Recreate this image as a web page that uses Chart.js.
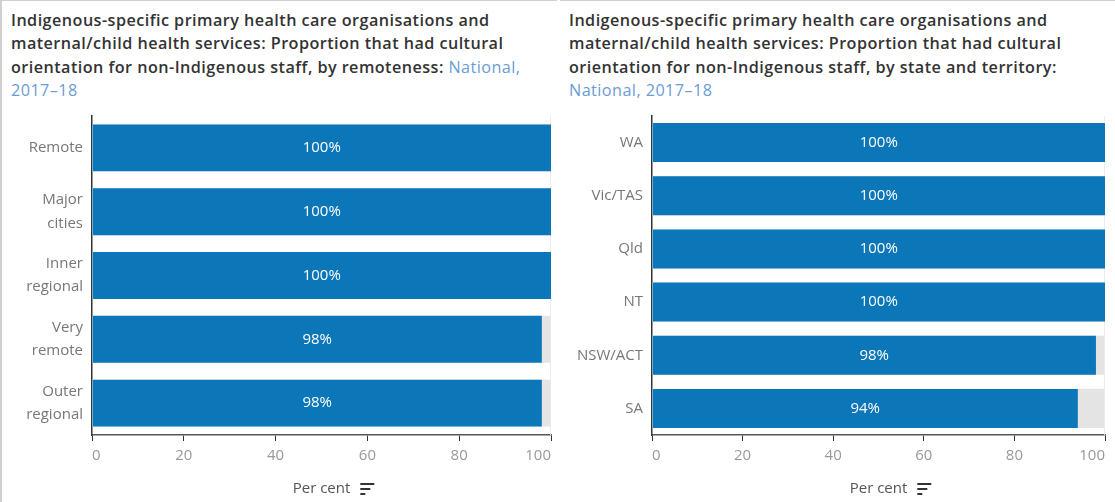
<!DOCTYPE html>
<html>
<head>
<meta charset="utf-8">
<script src="https://cdn.jsdelivr.net/npm/chart.js@4/dist/chart.umd.min.js"></script>
<style>
  html, body { margin: 0; padding: 0; background: #fff; }
  body { width: 1115px; height: 502px; position: relative; overflow: hidden; font-family: "Open Sans", sans-serif; }
  .panel { position: absolute; top: 0; height: 502px; box-sizing: border-box; border-top: 1px solid #d0d0d0; }
  #p1 { left: 0; width: 557px; border-left: 2px solid #d0d0d0; }
  #p2 { left: 560px; width: 555px; }
  .title { position: absolute; left: 9px; top: 8px; white-space: nowrap; font-size: 16.2px; line-height: 23.4px; font-weight: 600; color: #333; letter-spacing: 0.45px; }
  .title span { color: #6b9cd6; font-weight: 400; }
  canvas { position: absolute; top: 100px; }
</style>
</head>
<body>
<div class="panel" id="p1">
  <div class="title">Indigenous-specific primary health care organisations and<br>maternal/child health services: Proportion that had cultural<br>orientation for non-Indigenous staff, by remoteness: <span>National,<br>2017–18</span></div>
</div>
<div class="panel" id="p2">
  <div class="title">Indigenous-specific primary health care organisations and<br>maternal/child health services: Proportion that had cultural<br>orientation for non-Indigenous staff, by state and territory:<br><span>National, 2017–18</span></div>
</div>
<canvas id="c1" width="557" height="402" style="left:0;width:557px;height:402px"></canvas>
<canvas id="c2" width="555" height="402" style="left:560px;width:555px;height:402px"></canvas>
<script>
// Remoteness panel
const remotenessLabels = [["Remote"], ["Major", "cities"], ["Inner", "regional"], ["Very", "remote"], ["Outer", "regional"]];
const remotenessValues = [100, 100, 100, 98, 98];

// State and territory panel
const stateLabels = ["WA", "Vic/TAS", "Qld", "NT", "NSW/ACT", "SA"];
const stateValues = [100, 100, 100, 100, 98, 94];

const xTicks = [0, 20, 40, 60, 80, 100];
const axisTitle = "Per cent";

const BLUE = "#0b77b8";
const TRACK = "#e4e4e4";
const FONT = "'Open Sans', sans-serif";

// Grey 0–100 track behind each bar
const trackPlugin = {
  id: "track",
  beforeDatasetsDraw(chart) {
    const { ctx, scales: { x } } = chart;
    const meta = chart.getDatasetMeta(0);
    const x0 = x.getPixelForValue(0), x1 = x.getPixelForValue(100);
    ctx.save();
    ctx.fillStyle = TRACK;
    meta.data.forEach(bar => {
      ctx.fillRect(x0, bar.y - bar.height / 2, x1 - x0, bar.height);
    });
    // faint line at the 100 mark
    ctx.strokeStyle = "#ececec";
    ctx.lineWidth = 1;
    ctx.beginPath();
    ctx.moveTo(Math.round(x1) - 0.5, chart.chartArea.top);
    ctx.lineTo(Math.round(x1) - 0.5, chart.chartArea.bottom);
    ctx.stroke();
    ctx.restore();
  }
};

// White value labels centred in each bar, plus the sort glyph beside the axis title
const labelPlugin = {
  id: "barLabels",
  afterDatasetsDraw(chart) {
    const { ctx } = chart;
    const ds = chart.data.datasets[0];
    const meta = chart.getDatasetMeta(0);
    ctx.save();
    ctx.fillStyle = "#fff";
    ctx.font = "15px " + FONT;
    ctx.textAlign = "center";
    ctx.textBaseline = "middle";
    meta.data.forEach((bar, i) => {
      ctx.fillText(ds.data[i] + "%", (bar.x + bar.base) / 2, bar.y);
    });
    ctx.restore();
  },
  afterDraw(chart) {
    const { ctx, chartArea, scales: { x } } = chart;
    ctx.save();
    ctx.font = "15px " + FONT;
    const w = ctx.measureText(axisTitle).width;
    const cx = (chartArea.left + chartArea.right) / 2;
    const cy = x.bottom - 4 - 9;
    const sx = cx + w / 2 + 10;
    ctx.strokeStyle = "#333";
    ctx.lineWidth = 2;
    [[14, -5], [10, 0], [5, 5]].forEach(([len, dy]) => {
      ctx.beginPath();
      ctx.moveTo(sx, cy + dy);
      ctx.lineTo(sx + len, cy + dy);
      ctx.stroke();
    });
    ctx.restore();
  }
};

function makeChart(id, labels, values, padRight) {
  return new Chart(document.getElementById(id), {
    type: "bar",
    data: {
      labels: labels,
      datasets: [{
        data: values,
        backgroundColor: BLUE,
        borderWidth: 0,
        categoryPercentage: 1,
        barPercentage: 0.735
      }]
    },
    options: {
      indexAxis: "y",
      responsive: false,
      animation: false,
      events: [],
      layout: { padding: { top: 16, right: padRight, left: 0, bottom: 0 } },
      plugins: { legend: { display: false }, tooltip: { enabled: false } },
      scales: {
        x: {
          min: 0, max: 100,
          afterBuildTicks(scale) { scale.ticks = xTicks.map(v => ({ value: v })); },
          afterFit(scale) { scale.height = 67; scale.paddingLeft = 0; scale.paddingRight = 0; },
          border: { display: true, color: "#555", width: 1.5 },
          grid: { display: true, drawOnChartArea: false, drawTicks: true, tickLength: 6, color: "#333", tickColor: "#333", tickWidth: 1 },
          ticks: { color: "#999", font: { family: FONT, size: 15 }, padding: 6, align: "inner", maxRotation: 0 },
          title: { display: true, text: axisTitle, color: "#555", font: { family: FONT, size: 15 }, padding: { top: 0, bottom: 4 } }
        },
        y: {
          afterFit(scale) { scale.width = 92; scale.paddingTop = 0; scale.paddingBottom = 0; },
          border: { display: true, color: "#333", width: 1.5 },
          grid: { display: false, drawTicks: false },
          ticks: { color: "#777", font: { family: FONT, size: 15, lineHeight: 1.55 }, padding: 9 }
        }
      }
    },
    plugins: [trackPlugin, labelPlugin]
  });
}

makeChart("c1", remotenessLabels, remotenessValues, 6);
makeChart("c2", stateLabels, stateValues, 10);
</script>
</body>
</html>
